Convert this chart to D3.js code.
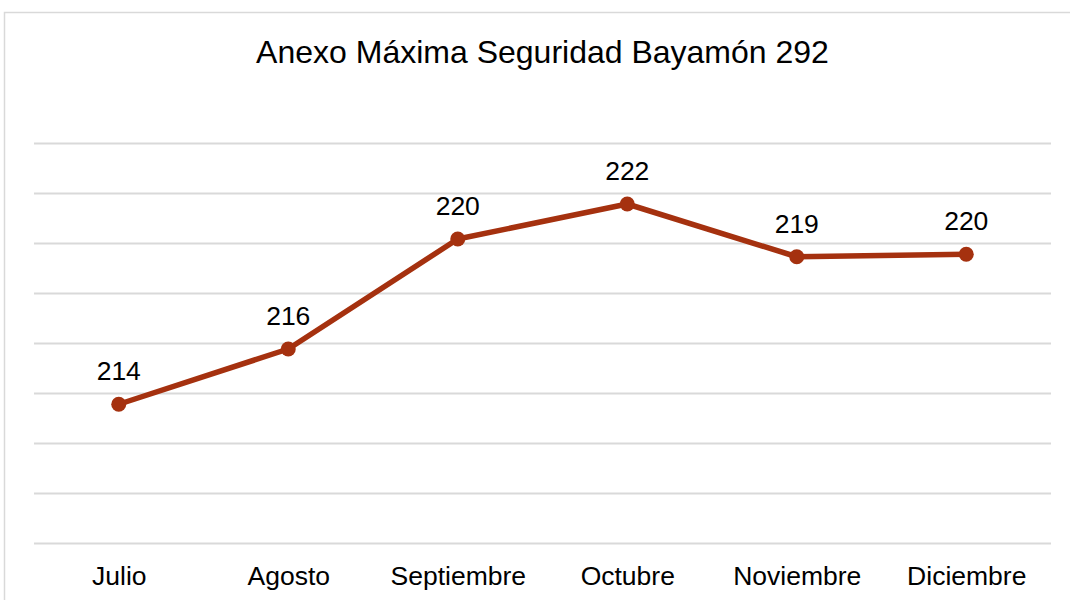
<!DOCTYPE html>
<html>
<head>
<meta charset="utf-8">
<script src="https://cdn.jsdelivr.net/npm/d3@7"></script>
<style>
  body { margin: 0; background: #fff; }
  svg { display: block; font-family: Arial, "Liberation Sans", sans-serif; }
</style>
</head>
<body>
<svg id="chart" width="1070" height="600"></svg>
<script>
// chart data
var title = "Anexo Máxima Seguridad Bayamón 292";
var months = ["Julio", "Agosto", "Septiembre", "Octubre", "Noviembre", "Diciembre"];
var values = [213.55, 215.76, 220.16, 221.56, 219.45, 219.55];
var yTicks = [208, 210, 212, 214, 216, 218, 220, 222, 224];

var svg = d3.select("#chart");

var plot = { left: 34, right: 1051, top: 143, bottom: 543 };
var lineColor = "#a5310f";

// outer chart border (runs off the right and bottom edge like the original)
svg.append("rect")
    .attr("x", 4.5)
    .attr("y", 12.5)
    .attr("width", 1100)
    .attr("height", 700)
    .attr("fill", "none")
    .attr("stroke", "#d9d9d9")
    .attr("stroke-width", 1.5);

var x = d3.scalePoint()
    .domain(months)
    .range([plot.left, plot.right])
    .padding(0.5);

var y = d3.scaleLinear()
    .domain([208, 224])
    .range([plot.bottom, plot.top]);

// gridlines
svg.append("g")
    .attr("class", "grid")
    .attr("transform", "translate(" + plot.left + ",0)")
    .call(d3.axisLeft(y)
        .tickValues(yTicks)
        .tickSize(-(plot.right - plot.left))
        .tickFormat(""))
    .call(g => g.select(".domain").remove())
    .call(g => g.selectAll("line")
        .attr("stroke", "#d9d9d9")
        .attr("stroke-width", 2));

// category labels
svg.append("g")
    .attr("transform", "translate(0," + plot.bottom + ")")
    .call(d3.axisBottom(x).tickSize(0).tickPadding(0))
    .call(g => g.select(".domain").remove())
    .call(g => g.selectAll("text")
        .attr("y", 42)
        .attr("dy", 0)
        .attr("fill", "#000")
        .style("font-size", "26.5px")
        .style("font-family", "Arial, 'Liberation Sans', sans-serif"));

// title
svg.append("text")
    .attr("x", 542.5)
    .attr("y", 63)
    .attr("text-anchor", "middle")
    .style("font-size", "32px")
    .attr("fill", "#000")
    .text(title);

var line = d3.line()
    .x((d, i) => x(months[i]))
    .y(d => y(d));

svg.append("path")
    .datum(values)
    .attr("d", line)
    .attr("fill", "none")
    .attr("stroke", lineColor)
    .attr("stroke-width", 5.5)
    .attr("stroke-linejoin", "round");

svg.selectAll(".dot")
    .data(values)
    .enter().append("circle")
    .attr("class", "dot")
    .attr("cx", (d, i) => x(months[i]))
    .attr("cy", d => y(d))
    .attr("r", 7.5)
    .attr("fill", lineColor);

var fmt = d3.format(".0f");
svg.selectAll(".label")
    .data(values)
    .enter().append("text")
    .attr("class", "label")
    .attr("x", (d, i) => x(months[i]))
    .attr("y", d => y(d) - 24)
    .attr("text-anchor", "middle")
    .style("font-size", "26.5px")
    .attr("fill", "#000")
    .text(d => fmt(d));
</script>
</body>
</html>
